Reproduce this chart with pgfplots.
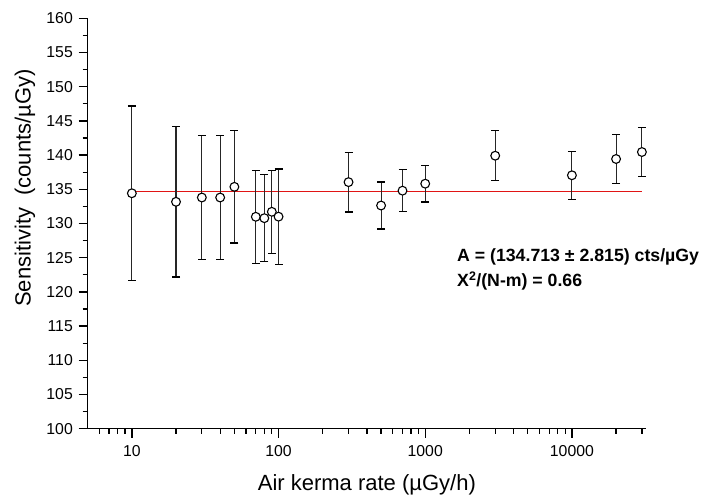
\documentclass[border=0pt]{standalone}
\usepackage{fontspec}
\setmainfont{Liberation Sans}
\usepackage{xcolor}
\usepackage{pgfplots}
\pgfplotsset{compat=1.18}
\definecolor{fitred}{RGB}{225,20,20}
\pgfplotstableread{
x y e
10 134.42 12.75
20 133.17 11.0
30 133.8 9.04
40 133.8 9.04
50 135.36 8.2
70 130.98 6.8
80 130.78 6.35
90 131.71 6.07
100 131.0 6.98
300 136.05 4.36
500 132.63 3.43
700 134.8 3.07
1000 135.82 2.68
3000 139.91 3.65
10000 137.05 3.5
20000 139.43 3.55
30000 140.45 3.61
}\sens
\begin{document}
\begin{tikzpicture}
\path[use as bounding box] (-87.7bp,-69.3bp) rectangle (614.3bp,428.7bp);
\begin{axis}[
 at={(0,0)}, anchor=south west,
 scale only axis, width=558.3bp, height=410.4bp,
 xmode=log, log basis x=10,
 xmin=5, xmax=32000, ymin=100, ymax=160,
 clip=false,
 axis x line*=bottom, axis y line*=left,
 axis line style={line width=1.5bp, black},
 tick align=outside,
 major tick length=9bp, minor tick length=5bp,
 every tick/.style={black, line width=1.3bp},
 xtick={10,100,1000,10000}, xticklabels={10,100,1000,10000},
 minor xtick={6,7,8,9,20,30,40,50,60,70,80,90,200,300,400,500,600,700,800,900,2000,3000,4000,5000,6000,7000,8000,9000,20000,30000},
 ytick={100,105,...,160}, minor y tick num=1,
 /pgf/number format/assume math mode=true,
 ticklabel style={font=\fontsize{15.8bp}{18bp}\selectfont},
 xticklabel style={anchor=north, inner sep=0pt},
 yticklabel style={anchor=east, inner sep=0pt},
 xticklabel shift=8bp,
 yticklabel shift=5.7bp,
 xlabel={Air kerma rate (µGy/h)},
 ylabel={Sensitivity\ \ (counts/µGy)},
 xlabel style={at={(axis description cs:0.5,-0.137)}, anchor=center, font=\fontsize{22bp}{26bp}\selectfont},
 ylabel style={at={(axis description cs:-0.1123,0.5865)}, anchor=center, font=\fontsize{22bp}{26bp}\selectfont},
]
\addplot[draw=fitred, line width=1.3bp, forget plot] coordinates {(10,134.713) (30000,134.713)};
\addplot[only marks, mark=*, mark size=4.4bp,
  mark options={fill=white, draw=black, line width=1.1bp},
  error bars/.cd, y dir=both, y explicit,
  error bar style={line width=1.1bp, black!85},
  error mark options={rotate=90, mark size=4bp, line width=1.2bp, black}]
  table[x=x, y=y, y error=e] {\sens};
\node[anchor=base west, inner sep=0pt, font=\bfseries\fontsize{17.7bp}{21bp}\selectfont] at (rel axis cs:0.6615,0.4069) {A = (134.713 ± 2.815) cts/µGy};
\node[anchor=base west, inner sep=0pt, font=\bfseries\fontsize{17.7bp}{21bp}\selectfont] at (rel axis cs:0.6615,0.346) {X\textsuperscript{2}/(N-m) = 0.66};
\end{axis}
\end{tikzpicture}
\end{document}
